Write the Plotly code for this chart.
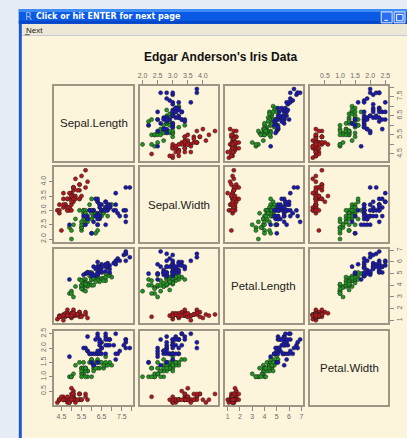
import plotly.graph_objects as go

# Edgar Anderson's iris measurements (cm), 50 flowers per species
sepal_length = [
    5.1, 4.9, 4.7, 4.6, 5.0, 5.4, 4.6, 5.0, 4.4, 4.9, 5.4, 4.8, 4.8, 4.3, 5.8, 5.7, 5.4, 5.1, 5.7, 5.1,
    5.4, 5.1, 4.6, 5.1, 4.8, 5.0, 5.0, 5.2, 5.2, 4.7, 4.8, 5.4, 5.2, 5.5, 4.9, 5.0, 5.5, 4.9, 4.4, 5.1,
    5.0, 4.5, 4.4, 5.0, 5.1, 4.8, 5.1, 4.6, 5.3, 5.0,
    7.0, 6.4, 6.9, 5.5, 6.5, 5.7, 6.3, 4.9, 6.6, 5.2, 5.0, 5.9, 6.0, 6.1, 5.6, 6.7, 5.6, 5.8, 6.2, 5.6,
    5.9, 6.1, 6.3, 6.1, 6.4, 6.6, 6.8, 6.7, 6.0, 5.7, 5.5, 5.5, 5.8, 6.0, 5.4, 6.0, 6.7, 6.3, 5.6, 5.5,
    5.5, 6.1, 5.8, 5.0, 5.6, 5.7, 5.7, 6.2, 5.1, 5.7,
    6.3, 5.8, 7.1, 6.3, 6.5, 7.6, 4.9, 7.3, 6.7, 7.2, 6.5, 6.4, 6.8, 5.7, 5.8, 6.4, 6.5, 7.7, 7.7, 6.0,
    6.9, 5.6, 7.7, 6.3, 6.7, 7.2, 6.2, 6.1, 6.4, 7.2, 7.4, 7.9, 6.4, 6.3, 6.1, 7.7, 6.3, 6.4, 6.0, 6.9,
    6.7, 6.9, 5.8, 6.8, 6.7, 6.7, 6.3, 6.5, 6.2, 5.9,
]
sepal_width = [
    3.5, 3.0, 3.2, 3.1, 3.6, 3.9, 3.4, 3.4, 2.9, 3.1, 3.7, 3.4, 3.0, 3.0, 4.0, 4.4, 3.9, 3.5, 3.8, 3.8,
    3.4, 3.7, 3.6, 3.3, 3.4, 3.0, 3.4, 3.5, 3.4, 3.2, 3.1, 3.4, 4.1, 4.2, 3.1, 3.2, 3.5, 3.6, 3.0, 3.4,
    3.5, 2.3, 3.2, 3.5, 3.8, 3.0, 3.8, 3.2, 3.7, 3.3,
    3.2, 3.2, 3.1, 2.3, 2.8, 2.8, 3.3, 2.4, 2.9, 2.7, 2.0, 3.0, 2.2, 2.9, 2.9, 3.1, 3.0, 2.7, 2.2, 2.5,
    3.2, 2.8, 2.5, 2.8, 2.9, 3.0, 2.8, 3.0, 2.9, 2.6, 2.4, 2.4, 2.7, 2.7, 3.0, 3.4, 3.1, 2.3, 3.0, 2.5,
    2.6, 3.0, 2.6, 2.3, 2.7, 3.0, 2.9, 2.9, 2.5, 2.8,
    3.3, 2.7, 3.0, 2.9, 3.0, 3.0, 2.5, 2.9, 2.5, 3.6, 3.2, 2.7, 3.0, 2.5, 2.8, 3.2, 3.0, 3.8, 2.6, 2.2,
    3.2, 2.8, 2.8, 2.7, 3.3, 3.2, 2.8, 3.0, 2.8, 3.0, 2.8, 3.8, 2.8, 2.8, 2.6, 3.0, 3.4, 3.1, 3.0, 3.1,
    3.1, 3.1, 2.7, 3.2, 3.3, 3.0, 2.5, 3.0, 3.4, 3.0,
]
petal_length = [
    1.4, 1.4, 1.3, 1.5, 1.4, 1.7, 1.4, 1.5, 1.4, 1.5, 1.5, 1.6, 1.4, 1.1, 1.2, 1.5, 1.3, 1.4, 1.7, 1.5,
    1.7, 1.5, 1.0, 1.7, 1.9, 1.6, 1.6, 1.5, 1.4, 1.6, 1.6, 1.5, 1.5, 1.4, 1.5, 1.2, 1.3, 1.4, 1.3, 1.5,
    1.3, 1.3, 1.3, 1.6, 1.9, 1.4, 1.6, 1.4, 1.5, 1.4,
    4.7, 4.5, 4.9, 4.0, 4.6, 4.5, 4.7, 3.3, 4.6, 3.9, 3.5, 4.2, 4.0, 4.7, 3.6, 4.4, 4.5, 4.1, 4.5, 3.9,
    4.8, 4.0, 4.9, 4.7, 4.3, 4.4, 4.8, 5.0, 4.5, 3.5, 3.8, 3.7, 3.9, 5.1, 4.5, 4.5, 4.7, 4.4, 4.1, 4.0,
    4.4, 4.6, 4.0, 3.3, 4.2, 4.2, 4.2, 4.3, 3.0, 4.1,
    6.0, 5.1, 5.9, 5.6, 5.8, 6.6, 4.5, 6.3, 5.8, 6.1, 5.1, 5.3, 5.5, 5.0, 5.1, 5.3, 5.5, 6.7, 6.9, 5.0,
    5.7, 4.9, 6.7, 4.9, 5.7, 6.0, 4.8, 4.9, 5.6, 5.8, 6.1, 6.4, 5.6, 5.1, 5.6, 6.1, 5.6, 5.5, 4.8, 5.4,
    5.6, 5.1, 5.1, 5.9, 5.7, 5.2, 5.0, 5.2, 5.4, 5.1,
]
petal_width = [
    0.2, 0.2, 0.2, 0.2, 0.2, 0.4, 0.3, 0.2, 0.2, 0.1, 0.2, 0.2, 0.1, 0.1, 0.2, 0.4, 0.4, 0.3, 0.3, 0.3,
    0.2, 0.4, 0.2, 0.5, 0.2, 0.2, 0.4, 0.2, 0.2, 0.2, 0.2, 0.4, 0.1, 0.2, 0.2, 0.2, 0.2, 0.1, 0.2, 0.2,
    0.3, 0.3, 0.2, 0.6, 0.4, 0.3, 0.2, 0.2, 0.2, 0.2,
    1.4, 1.5, 1.5, 1.3, 1.5, 1.3, 1.6, 1.0, 1.3, 1.4, 1.0, 1.5, 1.0, 1.4, 1.3, 1.4, 1.5, 1.0, 1.5, 1.1,
    1.8, 1.3, 1.5, 1.2, 1.3, 1.4, 1.4, 1.7, 1.5, 1.0, 1.1, 1.0, 1.2, 1.6, 1.5, 1.6, 1.5, 1.3, 1.3, 1.3,
    1.2, 1.4, 1.2, 1.0, 1.3, 1.2, 1.3, 1.3, 1.1, 1.3,
    2.5, 1.9, 2.1, 1.8, 2.2, 2.1, 1.7, 1.8, 1.8, 2.5, 2.0, 1.9, 2.1, 2.0, 2.4, 2.3, 1.8, 2.2, 2.3, 1.5,
    2.3, 2.0, 2.0, 1.8, 2.1, 1.8, 1.8, 1.8, 2.1, 1.6, 1.9, 2.0, 2.2, 1.5, 1.4, 2.3, 2.4, 1.8, 1.8, 2.1,
    2.4, 2.3, 1.9, 2.3, 2.5, 2.3, 1.9, 2.0, 2.3, 1.8,
]
species = ["setosa"] * 50 + ["versicolor"] * 50 + ["virginica"] * 50

var_names = ["Sepal.Length", "Sepal.Width", "Petal.Length", "Petal.Width"]
columns = [sepal_length, sepal_width, petal_length, petal_width]

# axis tick positions and their labels (blank = tick without a label)
tick_vals = {
    "Sepal.Length": [4.5, 5.0, 5.5, 6.0, 6.5, 7.0, 7.5, 8.0],
    "Sepal.Width": [2.0, 2.5, 3.0, 3.5, 4.0],
    "Petal.Length": [1, 2, 3, 4, 5, 6, 7],
    "Petal.Width": [0.5, 1.0, 1.5, 2.0, 2.5],
}
tick_text = {
    "Sepal.Length": ["4.5", "", "5.5", "", "6.5", "", "7.5", ""],
    "Sepal.Width": ["2.0", "2.5", "3.0", "3.5", "4.0"],
    "Petal.Length": ["1", "2", "3", "4", "5", "6", "7"],
    "Petal.Width": ["0.5", "1.0", "1.5", "2.0", "2.5"],
}

species_fill = {"setosa": "#b8161a", "versicolor": "#1f961f", "virginica": "#1818b8"}

# ---- page geometry (pixels) ----
W, H = 407, 438
CREAM = "#fdf5db"
FRAME = "#9e9685"
TICK_FONT = dict(family="Liberation Sans, Arial", size=7, color="#6a6a6a")


def fx(p):
    return p / W


def fy(p):
    return 1 - p / H


col_left = [53, 139, 225, 311]
row_top = [84, 166, 248, 331]
PW, PH = 79, 75


def padded_range(vals):
    lo, hi = min(vals), max(vals)
    d = (hi - lo) * 0.04
    return [lo - d, hi + d]


fig = go.Figure()
layout = {}
annotations = []

k = 0
for r in range(4):
    for c in range(4):
        k += 1
        xa = "xaxis" if k == 1 else f"xaxis{k}"
        ya = "yaxis" if k == 1 else f"yaxis{k}"
        xn = "x" if k == 1 else f"x{k}"
        yn = "y" if k == 1 else f"y{k}"
        xv, yv = var_names[c], var_names[r]

        xside = None
        if r == 0 and c in (1, 3):
            xside = "top"
        elif r == 3 and c in (0, 2):
            xside = "bottom"
        yside = None
        if c == 0 and r in (1, 3):
            yside = "left"
        elif c == 3 and r in (0, 2):
            yside = "right"

        layout[xa] = dict(
            domain=[fx(col_left[c]), fx(col_left[c] + PW)],
            anchor=yn,
            range=padded_range(columns[c]),
            showgrid=False, zeroline=False,
            showline=True, mirror=True, linecolor=FRAME, linewidth=1.5,
            side=xside or "bottom",
            ticks="outside" if xside else "",
            ticklen=4, tickwidth=1, tickcolor="#8a8a8a",
            tickvals=tick_vals[xv], ticktext=tick_text[xv],
            showticklabels=bool(xside), tickfont=TICK_FONT,
            fixedrange=True,
        )
        layout[ya] = dict(
            domain=[fy(row_top[r] + PH), fy(row_top[r])],
            anchor=xn,
            range=padded_range(columns[r]),
            showgrid=False, zeroline=False,
            showline=True, mirror=True, linecolor=FRAME, linewidth=1.5,
            side=yside or "left",
            ticks="outside" if yside else "",
            ticklen=4, tickwidth=1, tickcolor="#8a8a8a",
            tickvals=tick_vals[yv], ticktext=tick_text[yv],
            showticklabels=bool(yside), tickfont=TICK_FONT, tickangle=-90,
            fixedrange=True,
        )

        if r == c:
            annotations.append(dict(
                text=var_names[r], xref=f"{xn} domain", yref=f"{yn} domain",
                x=0.5, y=0.5, showarrow=False,
                font=dict(family="Liberation Sans, Arial", size=11.5, color="#222222"),
            ))
            # empty trace keeps the axes of the label panel alive
            fig.add_trace(go.Scatter(x=[], y=[], xaxis=xn, yaxis=yn, showlegend=False))
            continue

        for sp in ["setosa", "versicolor", "virginica"]:
            idx = [i for i, s in enumerate(species) if s == sp]
            fig.add_trace(go.Scatter(
                x=[columns[c][i] for i in idx],
                y=[columns[r][i] for i in idx],
                xaxis=xn, yaxis=yn, mode="markers",
                marker=dict(size=4.1, color=species_fill[sp],
                            line=dict(color="#202020", width=0.5)),
                showlegend=False, hoverinfo="skip",
            ))

# ---- window frame around the graphics device ----
shapes = [
    # window body (blue border) and cream drawing surface
    dict(type="rect", xref="paper", yref="paper", x0=fx(17), x1=fx(410), y0=fy(440), y1=fy(6),
         fillcolor="#1c56d8", line=dict(width=0), layer="below"),
    dict(type="rect", xref="paper", yref="paper", x0=fx(20), x1=fx(410), y0=fy(440), y1=fy(33),
         fillcolor=CREAM, line=dict(width=0), layer="below"),
    # menu bar
    dict(type="rect", xref="paper", yref="paper", x0=fx(20), x1=fx(410), y0=fy(33), y1=fy(21),
         fillcolor="#ece7d6", line=dict(width=0), layer="below"),
    # title bar shading
    dict(type="rect", xref="paper", yref="paper", x0=fx(17), x1=fx(410), y0=fy(21), y1=fy(6),
         fillcolor="#0a5ae6", line=dict(width=0), layer="below"),
    dict(type="rect", xref="paper", yref="paper", x0=fx(17), x1=fx(410), y0=fy(9), y1=fy(6),
         fillcolor="#3d8cf5", line=dict(width=0), layer="below"),
    dict(type="rect", xref="paper", yref="paper", x0=fx(17), x1=fx(410), y0=fy(21), y1=fy(18),
         fillcolor="#0647c8", line=dict(width=0), layer="below"),
    # minimise / maximise buttons
    dict(type="rect", xref="paper", yref="paper", x0=fx(383), x1=fx(394), y0=fy(20), y1=fy(9),
         fillcolor="#2c6cf0", line=dict(color="#e8eefc", width=1), layer="above"),
    dict(type="rect", xref="paper", yref="paper", x0=fx(386), x1=fx(390), y0=fy(18), y1=fy(17),
         fillcolor="white", line=dict(width=0), layer="above"),
    dict(type="rect", xref="paper", yref="paper", x0=fx(396), x1=fx(407), y0=fy(20), y1=fy(9),
         fillcolor="#2c6cf0", line=dict(color="#e8eefc", width=1), layer="above"),
    dict(type="rect", xref="paper", yref="paper", x0=fx(398.5), x1=fx(405), y0=fy(18), y1=fy(11.5),
         fillcolor="rgba(0,0,0,0)", line=dict(color="white", width=1), layer="above"),
    # underline of the menu accelerator
    dict(type="line", xref="paper", yref="paper", x0=fx(23), x1=fx(28), y0=fy(32), y1=fy(32),
         line=dict(color="#333333", width=0.8), layer="above"),
]

annotations += [
    dict(text="Edgar Anderson's Iris Data", xref="paper", yref="paper",
         x=fx(221), y=fy(54), showarrow=False, xanchor="center", yanchor="middle",
         font=dict(family="Liberation Sans, Arial", size=12, color="#111111", weight="bold")),
    dict(text="R", xref="paper", yref="paper", x=fx(21), y=fy(14), showarrow=False,
         xanchor="left", yanchor="middle",
         font=dict(family="DejaVu Sans", size=10, color="#9fb6e8")),
    dict(text="Click or hit ENTER for next page", xref="paper", yref="paper",
         x=fx(32), y=fy(14), showarrow=False, xanchor="left", yanchor="middle",
         font=dict(family="DejaVu Sans", size=8, color="white", weight="bold")),
    dict(text="Next", xref="paper", yref="paper", x=fx(22.5), y=fy(27.5), showarrow=False,
         xanchor="left", yanchor="middle",
         font=dict(family="Liberation Sans, Arial", size=8, color="#222222")),
]

fig.update_layout(
    width=W, height=H,
    margin=dict(l=0, r=0, t=0, b=0),
    paper_bgcolor="#e6edf6",
    plot_bgcolor=CREAM,
    shapes=shapes,
    annotations=annotations,
    showlegend=False,
    **layout,
)

fig.write_html("out.html")
